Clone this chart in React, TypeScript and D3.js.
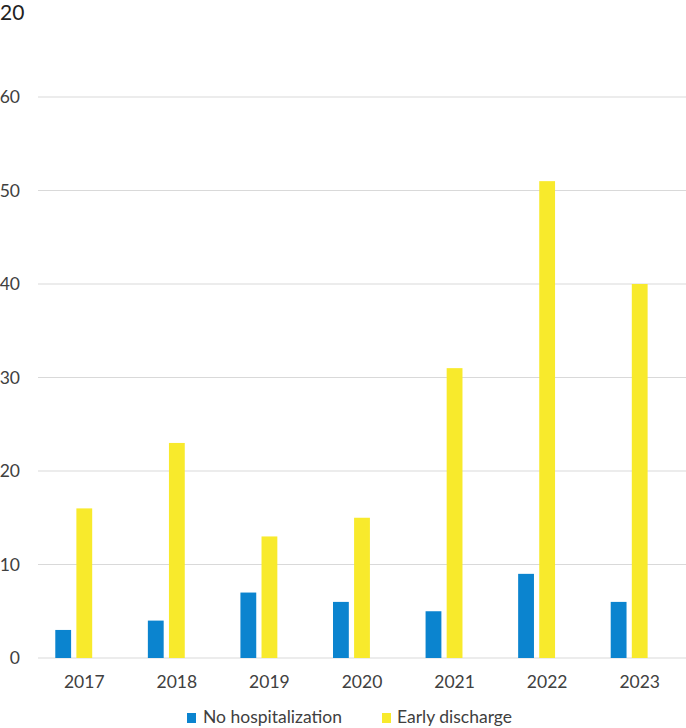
import React from "react";
import * as d3 from "d3";

const years = ["2017", "2018", "2019", "2020", "2021", "2022", "2023"];
const noHospitalization = [3, 4, 7, 6, 5, 9, 6];
const earlyDischarge = [16, 23, 13, 15, 31, 51, 40];
const emptySeries: (number | null)[] = [null, null, null, null, null, null, null];
const yTicks = [0, 10, 20, 30, 40, 50, 60];
const seriesNames = ["No hospitalization", "Early discharge", "Other"];
const seriesColors = ["#0B84CF", "#F8EA2C", "#A5A5A5"];

const W = 686;
const H = 728;
const left = 38;
const right = 686;
const top = 97;
const bottom = 658;
const font = "Lato, 'Open Sans', sans-serif";

export default function App() {
  const x0 = d3.scaleBand().domain(years).range([left, right]).paddingInner(0.3735).paddingOuter(0.3735 / 2);
  const x1 = d3.scaleBand().domain(seriesNames).range([0, x0.bandwidth()]).paddingInner(0.25).paddingOuter(0);
  const y = d3.scaleLinear().domain([0, 60]).range([bottom, top]);
  const series = [noHospitalization, earlyDischarge, emptySeries];

  return (
    <svg width={W} height={H} style={{ position: "absolute", left: 0, top: 0, background: "#fff" }}>
      <text x={0} y={20} fontFamily={font} fontSize={21} fill="#222">20</text>
      {yTicks.map((t) => (
        <g key={t}>
          <line x1={left} x2={right} y1={y(t)} y2={y(t)} stroke="#D9D9D9" strokeWidth={1.2} />
          <text x={20} y={y(t)} dy="0.35em" textAnchor="end" fontFamily={font} fontSize={17.5} fill="#404040">{t}</text>
        </g>
      ))}
      {years.map((yr, i) => (
        <g key={yr}>
          {series.map((s, si) => {
            const v = s[i];
            if (v == null) return null;
            return (
              <rect key={si} x={(x0(yr) as number) + (x1(seriesNames[si]) as number)} y={y(v)} width={x1.bandwidth()} height={y(0) - y(v)} fill={seriesColors[si]} />
            );
          })}
          <text x={(x0(yr) as number) + x0.bandwidth() / 2} y={688} textAnchor="middle" fontFamily={font} fontSize={17.5} fill="#404040">{yr}</text>
        </g>
      ))}
      <g>
        <rect x={187} y={713} width={9} height={10} fill={seriesColors[0]} />
        <text x={203} y={723} fontFamily={font} fontSize={17.5} fill="#404040">{seriesNames[0]}</text>
        <rect x={382} y={713} width={9} height={10} fill={seriesColors[1]} />
        <text x={397} y={723} fontFamily={font} fontSize={17.5} fill="#404040">{seriesNames[1]}</text>
      </g>
    </svg>
  );
}
